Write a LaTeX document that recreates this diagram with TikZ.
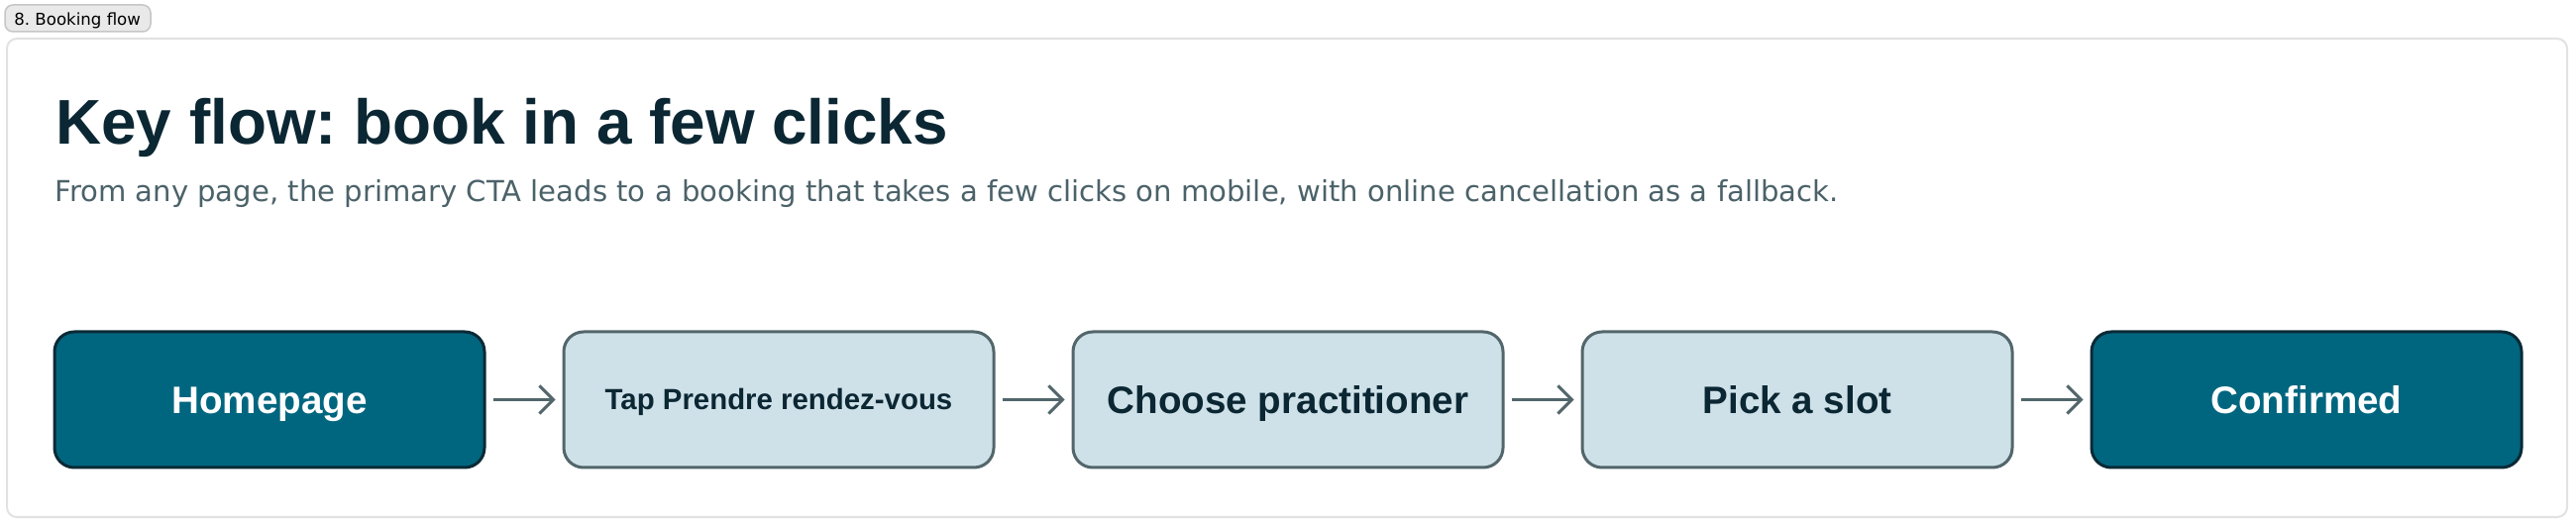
\documentclass[tikz,border=0pt]{standalone}
\usepackage{fontspec}
\setmainfont{Liberation Sans}
\newfontfamily\regfont{DejaVu Sans}
\usetikzlibrary{arrows.meta}
\definecolor{ink}{HTML}{0B2733}
\definecolor{sub}{HTML}{4B6269}
\definecolor{darkfill}{HTML}{00667F}
\definecolor{darkline}{HTML}{0A2A36}
\definecolor{lightfill}{HTML}{CFE1E8}
\definecolor{lightline}{HTML}{52666B}
\definecolor{cardline}{HTML}{E2E2E2}
\definecolor{tagfill}{HTML}{E9E9E9}
\definecolor{tagline}{HTML}{C6C6C6}
\tikzset{
  flowbox/.style={rounded corners=10pt, minimum width=217pt, minimum height=68.5pt, line width=1.5pt, inner sep=0pt, align=center, text height=13.7pt, text depth=0pt, font=\fontsize{19.3}{22}\selectfont\bfseries},
  darkbox/.style={flowbox, fill=darkfill, draw=darkline, text=white},
  lightbox/.style={flowbox, fill=lightfill, draw=lightline, text=ink},
  smalltext/.style={font=\fontsize{14.7}{17}\selectfont\bfseries, text height=10.5pt},
  flowarrow/.style={draw=lightline, line width=1.5pt, -{Straight Barb[length=7pt,width=14pt,line width=1.5pt]}}
}
\begin{document}
\frenchspacing
\begin{tikzpicture}[x=0.5pt,y=-0.5pt]
\useasboundingbox (0,0) rectangle (2600,528);
\fill[white] (0,0) rectangle (2600,528);
% tag
\draw[fill=tagfill, draw=tagline, line width=0.75pt, rounded corners=4pt] (5,5) rectangle (152,32);
\node[anchor=base west, inner sep=0pt, font=\regfont\fontsize{8.3}{10}\selectfont, text=black] (tag) at (14,26) {8. Booking flow};
% card
\draw[fill=white, draw=cardline, line width=1pt, rounded corners=5pt] (7,39) rectangle (2591,522);
% title
\node[anchor=base west, inner sep=0pt, text=ink, font=\fontsize{31.9}{38}\selectfont\bfseries] (title) at (56,146) {Key flow: book in a few clicks};
\node[anchor=base west, inner sep=0pt, text=sub, font=\regfont\fontsize{14.55}{17}\selectfont] (subtitle) at (55,204) {From any page, the primary CTA leads to a booking that takes a few clicks on mobile, with online cancellation as a fallback.};
% boxes
\node[darkbox] (home) at (272,403.5) {Homepage};
\node[lightbox, smalltext] (tap) at (786,403.5) {Tap Prendre rendez-vous};
\node[lightbox] (choose) at (1300,403.5) {Choose practitioner};
\node[lightbox] (slot) at (1814,403.5) {Pick a slot};
\node[darkbox] (conf) at (2328,403.5) {Confirmed};
% arrows
\draw[flowarrow] ([xshift=3.5pt]home.east) -- ([xshift=-3.5pt]tap.west);
\draw[flowarrow] ([xshift=3.5pt]tap.east) -- ([xshift=-3.5pt]choose.west);
\draw[flowarrow] ([xshift=3.5pt]choose.east) -- ([xshift=-3.5pt]slot.west);
\draw[flowarrow] ([xshift=3.5pt]slot.east) -- ([xshift=-3.5pt]conf.west);
\end{tikzpicture}
\end{document}
